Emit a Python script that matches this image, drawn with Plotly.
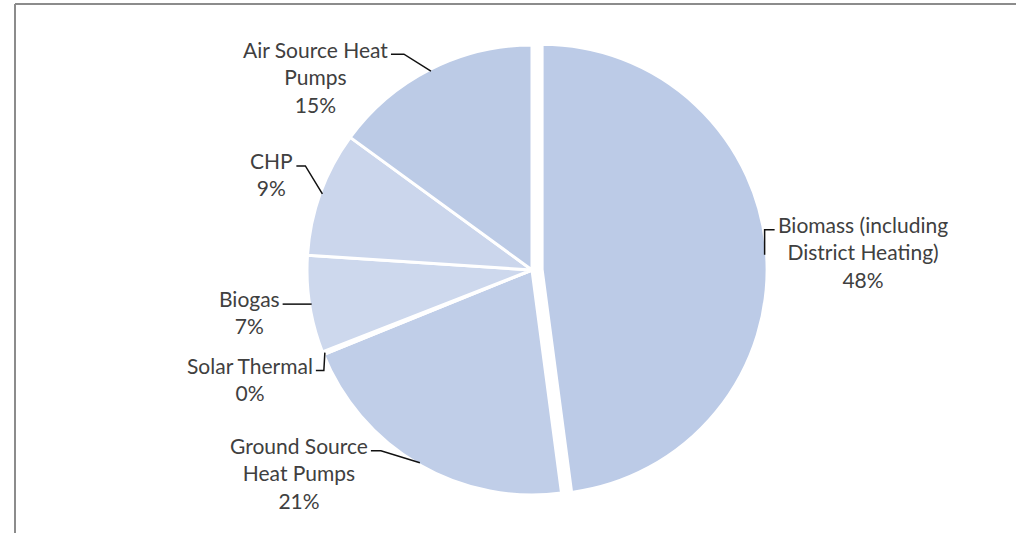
import math
import plotly.graph_objects as go

# ---------------- data ----------------
categories = ["Biomass (including District Heating)", "Ground Source Heat Pumps",
              "Solar Thermal", "Biogas", "CHP", "Air Source Heat Pumps"]
label_text = ["Biomass (including<br>District Heating)", "Ground Source<br>Heat Pumps",
              "Solar Thermal", "Biogas", "CHP", "Air Source Heat<br>Pumps"]
values = [48, 21, 0.2, 7, 9, 15]
pulls = [0.045, 0, 0, 0, 0, 0]

# ---------------- style / layout ----------------
slice_colors = ["#bccbe7", "#c0cee8", "#c8d4eb", "#cdd8ed", "#cbd6ec", "#bccbe6"]
# label placement relative to each slice's anchor point (pixels): dx, dy, elbow segment, side
label_place = [(10, -25, 10, "left"), (-49, -12, 10, "right"), (-9, 18, 8, "right"),
               (-29, 0, 10, "right"), (-26, -28, 9, "right"), (-40, -17, 13, "right")]

W, H = 1016, 544
CX, CY, R = 532, 270, 225
FONT = "Lato"
FS = 21

maxpull = max(pulls)
box = 2 * R * (1 + maxpull)
domain_x = [(CX - box / 2) / W, (CX + box / 2) / W]
domain_y = [1 - (CY + box / 2) / H, 1 - (CY - box / 2) / H]

fig = go.Figure(go.Pie(
    labels=categories, values=values, pull=pulls, sort=False,
    direction="clockwise", rotation=0, textinfo="none", hoverinfo="label+percent",
    marker=dict(colors=slice_colors, line=dict(color="white", width=3)),
    domain=dict(x=domain_x, y=domain_y), showlegend=False,
))

total = sum(values)
cum = 0.0
shapes = []
annotations = []
for lab, v, p, (dx, dy, seg, side) in zip(label_text, values, pulls, label_place):
    theta = 2 * math.pi * (cum + v / 2) / total
    cum += v
    s, c = math.sin(theta), math.cos(theta)
    ccx, ccy = CX + p * R * s, CY - p * R * c
    ax, ay = ccx + (R - 2) * s, ccy - (R - 2) * c
    tx, ty = ax + dx, ay + dy
    ex = tx + seg if side == "right" else tx - seg
    ey = ty
    path = f"M {tx/W} {1-ty/H} L {ex/W} {1-ey/H} L {ax/W} {1-ay/H}"
    shapes.append(dict(type="path", xref="paper", yref="paper", path=path,
                       line=dict(color="#111111", width=1.5)))
    pct = round(v / total * 100)
    annotations.append(dict(
        x=tx / W, y=1 - ty / H, xref="paper", yref="paper",
        xanchor=side, yanchor="top", yshift=FS * 0.65 + 5, xshift=-2 if side == "right" else 2,
        text=f"{lab}<br>{pct}%", showarrow=False, align="center", borderpad=0,
        font=dict(family=FONT, size=FS, color="#404040"),
    ))

# chart frame (top and left edges of the cropped chart area)
shapes.append(dict(type="line", xref="paper", yref="paper", x0=15 / W, x1=1.0,
                   y0=1 - 4 / H, y1=1 - 4 / H, line=dict(color="#8c8c8c", width=2)))
shapes.append(dict(type="line", xref="paper", yref="paper", x0=15 / W, x1=15 / W,
                   y0=1 - 4 / H, y1=1 - 533 / H, line=dict(color="#8c8c8c", width=2)))

fig.update_layout(
    width=W, height=H, margin=dict(l=0, r=0, t=0, b=0),
    paper_bgcolor="white", plot_bgcolor="white",
    shapes=shapes, annotations=annotations,
)

fig.write_html("out.html")
